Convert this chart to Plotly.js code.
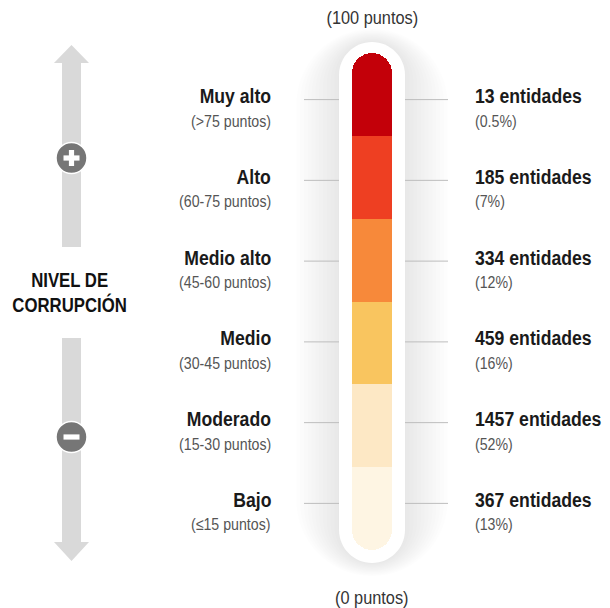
<!DOCTYPE html>
<html>
<head>
<meta charset="utf-8">
<script src="https://cdn.plot.ly/plotly-3.0.1.min.js"></script>
<style>html,body{margin:0;padding:0;background:#fff;}#chart{width:610px;height:608px;}</style>
</head>
<body>
<div id="chart"></div>
<script>
// ---- data ----
const levels = ['Muy alto', 'Alto', 'Medio alto', 'Medio', 'Moderado', 'Bajo'];
const ranges = ['(>75 puntos)', '(60-75 puntos)', '(45-60 puntos)', '(30-45 puntos)', '(15-30 puntos)', '(≤15 puntos)'];
const entidades = [13, 185, 334, 459, 1457, 367];
const porcentajes = ['0.5%', '7%', '12%', '16%', '52%', '13%'];
const segment = [1, 1, 1, 1, 1, 1];          // equal visual band per level
const topLabel = '(100 puntos)';
const bottomLabel = '(0 puntos)';
const sideTitle = 'NIVEL DE<br>CORRUPCIÓN';

// ---- styles ----
const colors = ['#C30009', '#EE3F22', '#F7893A', '#F9C55F', '#FDE8C5', '#FEF5E3'];
const W = 610, H = 608;
const FONT = 'Liberation Sans, Arial, sans-serif';
const CONDENSE = 0.86;
const BAR_X = 372, BAR_W = 40;
const PX_PER_UNIT = 82.83, ZERO_PX = 301.5;
const yRange = [-(H - ZERO_PX) / PX_PER_UNIT, ZERO_PX / PX_PER_UNIT];

// upper three levels stack upward from 0, lower three stack downward
const upper = [2, 1, 0], lower = [3, 4, 5];
const traces = [];
const mids = new Array(levels.length);
let acc = 0;
upper.forEach(i => {
  mids[i] = acc + segment[i] / 2; acc += segment[i];
  traces.push({type: 'bar', x: [BAR_X], y: [segment[i]], width: [BAR_W], name: levels[i],
    marker: {color: colors[i], line: {width: 0}}, hoverinfo: 'name'});
});
acc = 0;
lower.forEach(i => {
  mids[i] = acc - segment[i] / 2; acc -= segment[i];
  traces.push({type: 'bar', x: [BAR_X], y: [-segment[i]], width: [BAR_W], name: levels[i],
    marker: {color: colors[i], line: {width: 0}}, hoverinfo: 'name'});
});

// ---- decorative shapes (paper coords from pixel helpers) ----
const X = p => p / W, Y = p => 1 - p / H;
function pill(cx, top, bottom, hw) {
  const r = hw, k = 0.5523 * r;
  const x0 = cx - hw, x1 = cx + hw;
  const P = (a, b) => X(a).toFixed(5) + ',' + Y(b).toFixed(5);
  return 'M' + P(x0, top + r) +
    ' C' + P(x0, top + r - k) + ' ' + P(cx - k, top) + ' ' + P(cx, top) +
    ' C' + P(cx + k, top) + ' ' + P(x1, top + r - k) + ' ' + P(x1, top + r) +
    ' L' + P(x1, bottom - r) +
    ' C' + P(x1, bottom - r + k) + ' ' + P(cx + k, bottom) + ' ' + P(cx, bottom) +
    ' C' + P(cx - k, bottom) + ' ' + P(x0, bottom - r + k) + ' ' + P(x0, bottom - r) + ' Z';
}
function poly(pts) {
  return 'M' + pts.map(p => X(p[0]).toFixed(5) + ',' + Y(p[1]).toFixed(5)).join(' L') + ' Z';
}
const shapes = [];
// soft shadow around the tube
for (let j = 0; j < 12; j++) {
  const hw = 34 + j * 3.8;
  shapes.push({type: 'path', xref: 'paper', yref: 'paper', layer: 'below',
    path: pill(BAR_X, 42 - j * 1.2, 563 + j * 1.2, hw),
    fillcolor: 'rgba(0,0,0,0.007)', line: {width: 0}});
}
// white tube
shapes.push({type: 'path', xref: 'paper', yref: 'paper', layer: 'below',
  path: pill(BAR_X, 42, 563, 33), fillcolor: '#ffffff', line: {width: 0}});
// arrows
const AC = '#D9D9D9';
shapes.push({type: 'path', xref: 'paper', yref: 'paper', layer: 'below', fillcolor: AC, line: {width: 0},
  path: poly([[71.5, 45], [89, 63], [81, 63], [81, 247], [62, 247], [62, 63], [54, 63]])});
shapes.push({type: 'path', xref: 'paper', yref: 'paper', layer: 'below', fillcolor: AC, line: {width: 0},
  path: poly([[62, 338], [81, 338], [81, 542], [89, 542], [71.5, 561], [54, 542], [62, 542]])});
// plus / minus circles
[[158, true], [437, false]].forEach(([cy, plus]) => {
  shapes.push({type: 'circle', xref: 'paper', yref: 'paper', layer: 'below',
    x0: X(71.5 - 15.5), x1: X(71.5 + 15.5), y0: Y(cy + 15.5), y1: Y(cy - 15.5),
    fillcolor: '#767676', line: {color: '#ffffff', width: 1.5}});
  shapes.push({type: 'rect', xref: 'paper', yref: 'paper', layer: 'below',
    x0: X(63.5), x1: X(79.5), y0: Y(cy + 2.6), y1: Y(cy - 2.6), fillcolor: '#ffffff', line: {width: 0}});
  if (plus) shapes.push({type: 'rect', xref: 'paper', yref: 'paper', layer: 'below',
    x0: X(68.9), x1: X(74.1), y0: Y(cy + 8), y1: Y(cy - 8), fillcolor: '#ffffff', line: {width: 0}});
});

// leader lines + labels
const annotations = [];
const condensed = [];   // [annotation index, anchor]
function addAnn(a, cond) {
  if (cond) condensed.push([annotations.length, a.xanchor]);
  annotations.push(a);
}
levels.forEach((lv, i) => {
  const ly = mids[i] * 0.975;
  shapes.push({type: 'line', xref: 'x', yref: 'y', x0: 304, x1: 339, y0: ly, y1: ly, line: {color: '#BDBDBD', width: 1}});
  shapes.push({type: 'line', xref: 'x', yref: 'y', x0: 405, x1: 448, y0: ly, y1: ly, line: {color: '#BDBDBD', width: 1}});
  addAnn({x: 273, y: ly, xref: 'x', yref: 'y', xanchor: 'right', yanchor: 'middle', yshift: 4,
    text: lv, showarrow: false, font: {family: FONT, size: 20.5, color: '#1a1a1a', weight: 'bold'}}, true);
  addAnn({x: 273, y: ly, xref: 'x', yref: 'y', xanchor: 'right', yanchor: 'middle', yshift: -21,
    text: ranges[i], showarrow: false, font: {family: FONT, size: 16.5, color: '#555555'}}, true);
  addAnn({x: 473, y: ly, xref: 'x', yref: 'y', xanchor: 'left', yanchor: 'middle', yshift: 4,
    text: entidades[i] + ' entidades', showarrow: false, font: {family: FONT, size: 20.5, color: '#1a1a1a', weight: 'bold'}}, true);
  addAnn({x: 473, y: ly, xref: 'x', yref: 'y', xanchor: 'left', yanchor: 'middle', yshift: -21,
    text: '(' + porcentajes[i] + ')', showarrow: false, font: {family: FONT, size: 16.5, color: '#555555'}}, true);
});
addAnn({x: BAR_X, y: Y(18), xref: 'x', yref: 'paper', xanchor: 'center', yanchor: 'middle',
  text: topLabel, showarrow: false, font: {family: FONT, size: 19, color: '#333333'}}, true);
addAnn({x: BAR_X, y: Y(597), xref: 'x', yref: 'paper', xanchor: 'center', yanchor: 'middle',
  text: bottomLabel, showarrow: false, font: {family: FONT, size: 19, color: '#333333'}}, true);
addAnn({x: X(69), y: Y(293), xref: 'paper', yref: 'paper', xanchor: 'center', yanchor: 'middle',
  text: sideTitle, showarrow: false, align: 'center',
  font: {family: FONT, size: 19.5, color: '#111111', weight: 'bold'}}, true);

const layout = {
  width: W, height: H,
  margin: {l: 0, r: 0, t: 0, b: 0, pad: 0},
  paper_bgcolor: '#ffffff', plot_bgcolor: 'rgba(0,0,0,0)',
  barmode: 'relative', barcornerradius: '50%', bargap: 0,
  showlegend: false,
  xaxis: {range: [0, W], visible: false, fixedrange: true},
  yaxis: {range: yRange, visible: false, fixedrange: true},
  shapes: shapes, annotations: annotations
};
Plotly.newPlot('chart', traces, layout, {displayModeBar: false, staticPlot: true}).then(gd => {
  // emulate a condensed typeface by narrowing the text horizontally around its anchor
  condensed.forEach(([idx, anchor]) => {
    const g = gd.querySelector('.annotation[data-index="' + idx + '"]');
    if (!g) return;
    const t = g.querySelector('text.annotation-text');
    if (!t) return;
    const bb = t.getBBox();
    const ax = anchor === 'right' ? bb.x + bb.width : anchor === 'left' ? bb.x : bb.x + bb.width / 2;
    const prev = t.getAttribute('transform') || '';
    t.setAttribute('transform', prev + ' translate(' + ax + ',0) scale(' + CONDENSE + ',1) translate(' + (-ax) + ',0)');
  });
});
</script>
</body>
</html>
